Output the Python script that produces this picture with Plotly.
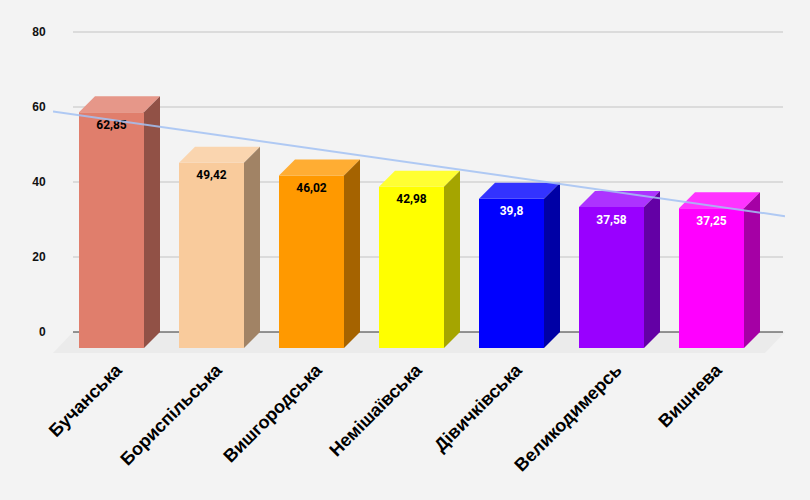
import numpy as np
import plotly.graph_objects as go

categories = ["Бучанська", "Бориспільська", "Вишгородська", "Немішаївська",
              "Дівичківська", "Великодимерсь", "Вишнева"]
values = [62.85, 49.42, 46.02, 42.98, 39.8, 37.58, 37.25]
front_colors = ["#E07E6C", "#F9CB9C", "#FF9900", "#FFFF00", "#0000FF", "#9900FF", "#FF00FF"]
label_colors = ["#000000", "#000000", "#000000", "#000000", "#FFFFFF", "#FFFFFF", "#FFFFFF"]
y_ticks = [0, 20, 40, 60, 80]


def shade(hex_color, f):
    h = hex_color.lstrip("#")
    r, g, b = (int(h[i:i + 2], 16) for i in (0, 2, 4))
    return "#%02X%02X%02X" % (int(r * f), int(g * f), int(b * f))


def tint(hex_color, f):
    h = hex_color.lstrip("#")
    r, g, b = (int(h[i:i + 2], 16) for i in (0, 2, 4))
    return "#%02X%02X%02X" % (int(r + (255 - r) * f), int(g + (255 - g) * f), int(b + (255 - b) * f))


# geometry (axis units)
x_range = [-0.585, 6.735]
y_range = [-6.133, 83.2]
bar_w = 0.65
dx = 0.16      # depth in x units (16 px)
dy = 4.267     # depth in y units (16 px)
floor_dx = 0.20
floor_dy = 5.6
label_gap = 2.0
tick_shift = 0.05

xs = list(range(len(categories)))
fig = go.Figure()

# front faces
fig.add_trace(go.Bar(
    x=xs, y=values, base=-dy, width=bar_w,
    marker=dict(color=front_colors, line=dict(width=0)),
    hoverinfo="skip",
))

# top and side faces
for i, v in enumerate(values):
    l, r = i - bar_w / 2, i + bar_w / 2
    top = v - dy
    fig.add_trace(go.Scatter(
        x=[l, r, r + dx, l + dx, l], y=[top, top, v, v, top],
        fill="toself", fillcolor=tint(front_colors[i], 0.2),
        mode="lines", line=dict(width=0), hoverinfo="skip",
    ))
    fig.add_trace(go.Scatter(
        x=[r, r + dx, r + dx, r, r], y=[-dy, 0, v, top, -dy],
        fill="toself", fillcolor=shade(front_colors[i], 0.65),
        mode="lines", line=dict(width=0), hoverinfo="skip",
    ))

# value labels
fig.add_trace(go.Scatter(
    x=xs, y=[v - dy - label_gap for v in values], mode="text",
    text=[("%g" % v).replace(".", ",") for v in values],
    textposition="bottom center",
    textfont=dict(family="Roboto", size=12, color=label_colors, weight="bold"),
    hoverinfo="skip", cliponaxis=False,
))

# trendline (linear fit)
slope, intercept = np.polyfit(xs, values, 1)
fig.add_trace(go.Scatter(
    x=x_range, y=[intercept + slope * x for x in x_range],
    mode="lines", line=dict(color="#A4C2F4", width=2), opacity=0.85,
    hoverinfo="skip",
))

shapes = []
# floor
shapes.append(dict(
    type="path", xref="x", yref="y", layer="below",
    path="M %f,%f L %f,%f L %f,%f L %f,%f Z" % (
        x_range[0], -floor_dy, x_range[1] - floor_dx, -floor_dy,
        x_range[1], 0, x_range[0] + floor_dx, 0),
    fillcolor="#EBEBEB", line=dict(width=0),
))
# gridlines
for t in y_ticks:
    shapes.append(dict(
        type="line", xref="x", yref="y", layer="below",
        x0=x_range[0] + floor_dx, x1=x_range[1] - 0.02, y0=t, y1=t,
        line=dict(color="#333333" if t == 0 else "#C3C3C3", width=1),
    ))

fig.update_layout(
    width=810, height=500,
    margin=dict(l=53, r=25, t=20, b=145),
    paper_bgcolor="#F3F3F3", plot_bgcolor="#F3F3F3",
    showlegend=False, hovermode=False,
    shapes=shapes,
    xaxis=dict(range=x_range, tickvals=[x + tick_shift for x in xs], ticktext=categories,
               tickangle=-45, showgrid=False, zeroline=False, showline=False,
               tickfont=dict(family="Liberation Sans", size=18, color="#000000", weight="bold")),
    yaxis=dict(range=y_range, tickvals=y_ticks, showgrid=False, zeroline=False,
               showline=False, ticks="outside", ticklen=4, tickcolor="rgba(0,0,0,0)",
               tickfont=dict(family="Liberation Sans", size=12, color="#111111", weight="bold")),
)

fig.write_html("out.html", config={"displayModeBar": False},
               post_script="document.body.style.margin='0';document.body.style.background='#F3F3F3';")
